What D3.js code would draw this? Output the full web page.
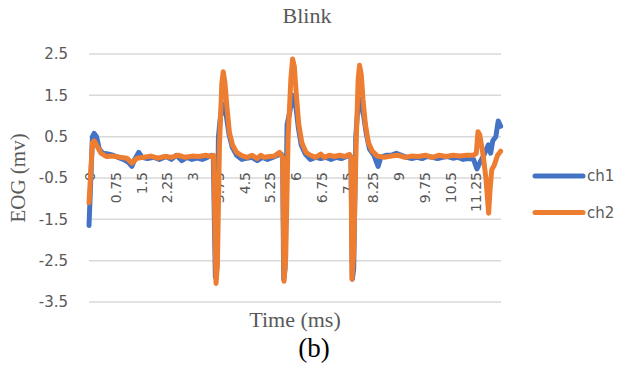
<!DOCTYPE html>
<html><head><meta charset="utf-8">
<script src="https://cdn.jsdelivr.net/npm/d3@7"></script>
<style>body{margin:0;background:#fff}svg{display:block}</style>
</head><body>
<svg id="c" width="619" height="375"></svg>
<script>
const xTickValues = [0,0.75,1.5,2.25,3,3.75,4.5,5.25,6,6.75,7.5,8.25,9,9.75,10.5,11.25];
const xTickLabels = ["0","0.75","1.5","2.25","3","3.75","4.5","5.25","6","6.75","7.5","8.25","9","9.75","10.5","11.25"];
const yTickValues = [2.5,1.5,0.5,-0.5,-1.5,-2.5,-3.5];
const seriesNames = ["ch1","ch2"];

const ch1Time = [0,0.04,0.1,0.15,0.22,0.3,0.4,0.55,0.7,0.85,1.0,1.15,1.25,1.33,1.45,1.55,1.7,1.9,2.05,2.25,2.4,2.55,2.7,2.85,3.0,3.15,3.3,3.45,3.58,3.62,3.68,3.72,3.77,3.83,3.89,3.94,4.0,4.08,4.17,4.3,4.45,4.6,4.75,4.9,5.05,5.2,5.35,5.5,5.6,5.64,5.67,5.71,5.77,5.85,5.92,5.97,6.03,6.1,6.18,6.3,6.45,6.6,6.75,6.9,7.05,7.2,7.35,7.5,7.6,7.63,7.67,7.71,7.77,7.83,7.88,7.94,8.0,8.08,8.17,8.3,8.42,8.5,8.65,8.8,8.95,9.1,9.25,9.4,9.55,9.7,9.85,10.0,10.15,10.3,10.45,10.6,10.75,10.9,11.05,11.2,11.3,11.4,11.5,11.58,11.63,11.7,11.76,11.85,11.92,11.99];
const ch1Values = [-1.65,-0.8,0.5,0.58,0.5,0.2,0.1,0.08,0.05,0.0,-0.05,-0.12,-0.22,-0.05,0.12,0.0,-0.03,0.0,-0.05,0.02,-0.05,0.05,-0.08,0.0,-0.05,-0.02,-0.05,0.0,0.05,0.02,-2.9,-2.7,0.5,1.0,1.3,1.1,1.0,0.55,0.25,0.05,-0.05,-0.02,0.0,-0.08,0.0,-0.05,0.0,0.05,0.08,0.0,-2.95,-2.7,0.8,1.1,1.5,1.3,1.2,0.7,0.3,0.08,-0.05,0.0,-0.03,0.0,-0.05,0.0,-0.03,0.02,0.05,0.0,-2.95,-2.7,0.5,1.2,1.4,1.2,1.0,0.55,0.2,0.05,-0.22,0.0,0.05,0.05,0.1,0.05,0.0,-0.03,0.0,-0.03,0.02,0.0,-0.03,0.0,0.02,-0.02,0.0,-0.05,-0.03,-0.05,-0.28,-0.1,0.05,0.2,0.3,0.1,0.4,0.5,0.88,0.75];

const ch2Time = [0,0.1,0.15,0.25,0.35,0.5,0.7,0.9,1.1,1.25,1.4,1.6,1.8,2.0,2.2,2.4,2.6,2.8,3.0,3.2,3.4,3.55,3.63,3.70,3.74,3.80,3.87,3.91,3.96,4.02,4.09,4.18,4.30,4.45,4.6,4.75,4.9,5.0,5.1,5.25,5.4,5.55,5.64,5.68,5.73,5.80,5.88,5.93,5.98,6.04,6.11,6.2,6.32,6.45,6.6,6.75,6.85,7.0,7.15,7.3,7.45,7.58,7.63,7.66,7.71,7.78,7.84,7.88,7.93,7.98,8.05,8.14,8.25,8.4,8.6,8.8,9.0,9.2,9.4,9.6,9.8,10.0,10.2,10.4,10.6,10.8,11.0,11.2,11.28,11.33,11.38,11.48,11.56,11.64,11.68,11.73,11.8,11.9,11.99];
const ch2Values = [-1.1,0.35,0.4,0.25,0.1,0.02,0.03,0.0,-0.02,-0.14,-0.02,0.0,0.03,-0.02,0.02,0.0,0.05,0.0,0.03,0.02,0.05,0.02,0.05,-3.05,-2.6,0.3,1.8,2.07,1.8,1.2,0.6,0.3,0.12,0.04,0.0,0.05,-0.03,0.05,0.0,0.02,0.03,0.12,0.0,-3.0,-2.4,0.5,1.9,2.38,2.2,1.5,0.8,0.35,0.12,0.05,0.0,0.08,0.0,0.05,0.02,0.05,0.02,0.07,0.0,-2.95,-2.3,0.3,1.9,2.23,2.0,1.4,0.8,0.35,0.15,0.03,0.0,0.03,0.05,0.0,0.03,0.02,0.05,0.0,0.05,0.02,0.05,0.03,0.05,0.05,0.1,0.62,0.55,0.05,-0.5,-1.35,-0.8,-0.3,-0.2,0.05,0.15];

const colors = ["#4472C4","#ED7D31"];
const svg = d3.select("#c");
const x = d3.scaleLinear().domain([0,12]).range([89,501]);
const y = d3.scaleLinear().domain([-3.5,2.5]).range([302,54]);

svg.append("g").selectAll("line").data(yTickValues).join("line")
  .attr("x1",89).attr("x2",501).attr("y1",d=>y(d)).attr("y2",d=>y(d))
  .attr("stroke","#d9d9d9").attr("stroke-width",1.5);

svg.append("g").selectAll("text").data(yTickValues).join("text")
  .attr("x",68).attr("y",d=>y(d)).attr("dy","0.36em").attr("text-anchor","end")
  .attr("font-family","DejaVu Sans").attr("font-size",15).attr("fill","#595959")
  .text(d=>d3.format(".1f")(d).replace("−","-"));

svg.append("g").selectAll("text").data(xTickValues).join("text")
  .attr("transform",d=>`translate(${x(d)+1},172) rotate(-90)`)
  .attr("dy","0.36em").attr("text-anchor","end")
  .attr("font-family","DejaVu Sans").attr("font-size",14).attr("fill","#595959")
  .text((d,i)=>xTickLabels[i]);

const line = d3.line().x(d=>x(d[0])).y(d=>y(d[1]));
const series = [d3.zip(ch1Time,ch1Values), d3.zip(ch2Time,ch2Values)];
svg.append("g").selectAll("path").data(series).join("path")
  .attr("d",line).attr("fill","none")
  .attr("stroke",(d,i)=>colors[i]).attr("stroke-width",5)
  .attr("stroke-linejoin","round").attr("stroke-linecap","round");

svg.append("text").attr("x",307).attr("y",23).attr("text-anchor","middle")
  .attr("font-family","Liberation Serif").attr("font-size",22).attr("fill","#595959").text("Blink");
svg.append("text").attr("transform","translate(25,178) rotate(-90)").attr("text-anchor","middle")
  .attr("font-family","Liberation Serif").attr("font-size",21).attr("fill","#595959").text("EOG (mv)");
svg.append("text").attr("x",295).attr("y",327).attr("text-anchor","middle")
  .attr("font-family","Liberation Serif").attr("font-size",22).attr("fill","#595959").text("Time (ms)");
svg.append("text").attr("x",314).attr("y",357).attr("text-anchor","middle")
  .attr("font-family","Liberation Serif").attr("font-size",27).attr("fill","#000").text("(b)");

const lg = svg.append("g").selectAll("g").data(seriesNames).join("g")
  .attr("transform",(d,i)=>`translate(535,${176+i*36.5})`);
lg.append("line").attr("x1",0).attr("x2",48).attr("stroke",(d,i)=>colors[i]).attr("stroke-width",5).attr("stroke-linecap","round");
lg.append("text").attr("x",52).attr("dy","0.36em").attr("font-family","DejaVu Sans").attr("font-size",15)
  .attr("fill","#595959").text(d=>d);
</script>
</body></html>
